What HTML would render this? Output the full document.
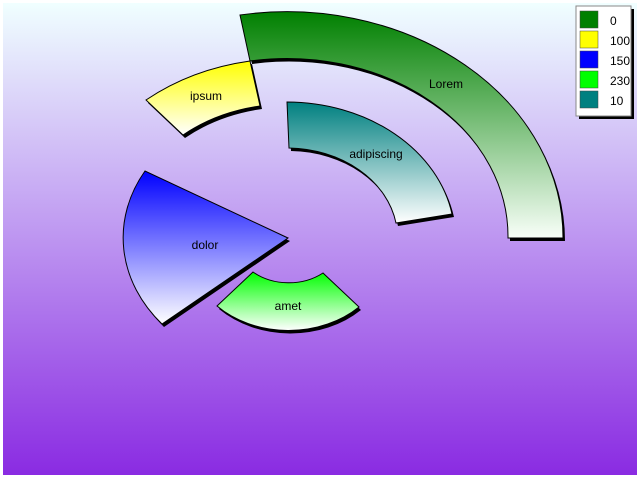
<!DOCTYPE html>
<html><head><style>
body{margin:0;width:640px;height:480px;overflow:hidden;background:#fff;font-family:"Liberation Sans",sans-serif}
</style></head><body>
<svg width="640" height="480" xmlns="http://www.w3.org/2000/svg" style="position:absolute;left:0;top:0">
<defs>
<linearGradient id="bg" x1="0" y1="0" x2="0" y2="1"><stop offset="0" stop-color="#f0ffff"/><stop offset="1" stop-color="#8a2be2"/></linearGradient>
<linearGradient id="g1" x1="0" y1="0" x2="0" y2="1"><stop offset="0" stop-color="#008000"/><stop offset="1" stop-color="#f8fff8"/></linearGradient>
<linearGradient id="g2" x1="0" y1="0" x2="0" y2="1"><stop offset="0" stop-color="#ffff00"/><stop offset="1" stop-color="#ffffff"/></linearGradient>
<linearGradient id="g3" x1="0" y1="0" x2="0" y2="1"><stop offset="0" stop-color="#0000ff"/><stop offset="1" stop-color="#ffffff"/></linearGradient>
<linearGradient id="g4" x1="0" y1="0" x2="0" y2="1"><stop offset="0" stop-color="#00ff00"/><stop offset="1" stop-color="#ffffff"/></linearGradient>
<linearGradient id="g5" x1="0" y1="0" x2="0" y2="1"><stop offset="0" stop-color="#008080"/><stop offset="1" stop-color="#ffffff"/></linearGradient>
</defs>
<rect x="3" y="3" width="634" height="472" fill="url(#bg)"/>
<g id="shadows" fill="#000" transform="translate(2,3)">
<path d="M240,15 A276,226 0 0 1 563,238 L508,238 A221,178 0 0 0 250,61 Z"/>
<path d="M250,61 A221,178 0 0 0 146,100 L183,135 A164,133 0 0 1 260,106 Z"/>
<path d="M287,102 A168,136 0 0 1 452,214 L396,223 A111,90 0 0 0 289,148 Z"/>
<path d="M288,238 L145,171 A165,134 0 0 0 162,324 Z"/>
<path d="M217,306 A100,81 0 0 0 359,307 L323,273 A55,45 0 0 1 253,272 Z"/>
</g>
<g stroke="#000" stroke-width="1">
<path d="M240,15 A276,226 0 0 1 563,238 L508,238 A221,178 0 0 0 250,61 Z" fill="url(#g1)"/>
<path d="M250,61 A221,178 0 0 0 146,100 L183,135 A164,133 0 0 1 260,106 Z" fill="url(#g2)"/>
<path d="M287,102 A168,136 0 0 1 452,214 L396,223 A111,90 0 0 0 289,148 Z" fill="url(#g5)"/>
<path d="M288,238 L145,171 A165,134 0 0 0 162,324 Z" fill="url(#g3)"/>
<path d="M217,306 A100,81 0 0 0 359,307 L323,273 A55,45 0 0 1 253,272 Z" fill="url(#g4)"/>
</g>
<g font-size="12" fill="#000" text-anchor="middle">
<text x="446" y="88">Lorem</text>
<text x="206" y="100">ipsum</text>
<text x="376" y="158">adipiscing</text>
<text x="205" y="249">dolor</text>
<text x="288" y="310">amet</text>
</g>
<rect x="579" y="9" width="55" height="110" fill="#000"/>
<rect x="576" y="6" width="55" height="110" fill="#fff" stroke="#888" stroke-width="1"/>
<g stroke="#444" stroke-width="0.5">
<rect x="580" y="11" width="18" height="17" fill="#008000"/>
<rect x="580" y="31" width="18" height="17" fill="#ffff00"/>
<rect x="580" y="51" width="18" height="17" fill="#0000ff"/>
<rect x="580" y="71" width="18" height="17" fill="#00ff00"/>
<rect x="580" y="91" width="18" height="17" fill="#008080"/>
</g>
<g font-size="12" fill="#000">
<text x="610" y="25">0</text>
<text x="610" y="45">100</text>
<text x="610" y="65">150</text>
<text x="610" y="85">230</text>
<text x="610" y="105">10</text>
</g>
</svg>
</body></html>
